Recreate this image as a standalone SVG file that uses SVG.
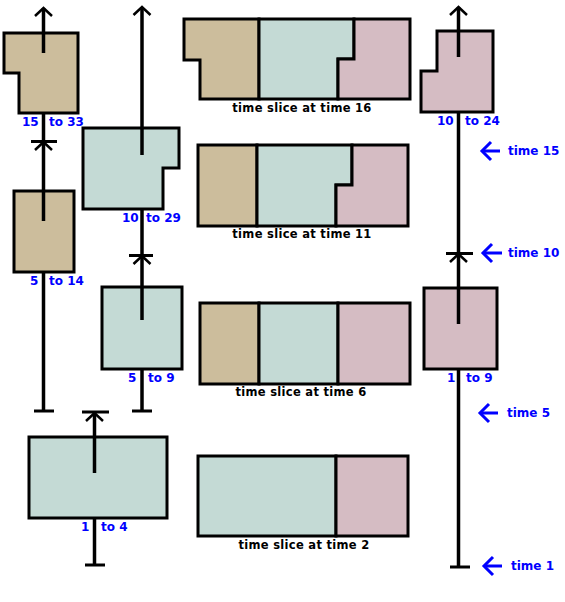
<svg xmlns="http://www.w3.org/2000/svg" width="565" height="602" viewBox="0 0 565 602">
<style>
.tan{fill:#CCBD9C;stroke:#000;stroke-width:3}
.teal{fill:#C4DAD5;stroke:#000;stroke-width:3}
.pink{fill:#D5BCC3;stroke:#000;stroke-width:3}
.ln{stroke:#000;stroke-width:3.5;fill:none}
.hd{stroke:#000;stroke-width:2.5;fill:none}
.bar{stroke:#000;stroke-width:3}
.blu{stroke:#0000FF;stroke-width:3;fill:none}
.lbl{font-family:"DejaVu Sans",sans-serif;font-weight:bold;font-size:12px;fill:#0000FF}
.cap{font-family:"DejaVu Sans",sans-serif;font-weight:bold;font-size:11.5px;letter-spacing:0.3px;fill:#000;text-anchor:middle}
</style>
<rect width="565" height="602" fill="#fff"/>

<g id="obj-15-33">
<polygon class="tan" points="4,33 78,33 78,113 19,113 19,73 4,73"/>
<text class="lbl" y="126"><tspan x="22">15</tspan><tspan x="49">to 33</tspan></text>
</g>
<g id="obj-5-14">
<rect class="tan" x="14" y="191" width="60" height="81"/>
<text class="lbl" y="285"><tspan x="30">5</tspan><tspan x="49">to 14</tspan></text>
</g>
<g id="obj-10-29">
<polygon class="teal" points="83,128 179,128 179,168 163,168 163,209 83,209"/>
<text class="lbl" y="222"><tspan x="122">10</tspan><tspan x="146">to 29</tspan></text>
</g>
<g id="obj-5-9">
<rect class="teal" x="102" y="287" width="80" height="82"/>
<text class="lbl" y="382"><tspan x="128">5</tspan><tspan x="148">to 9</tspan></text>
</g>
<g id="obj-1-4">
<rect class="teal" x="29" y="437" width="138" height="81"/>
<text class="lbl" y="531"><tspan x="81">1</tspan><tspan x="101">to 4</tspan></text>
</g>
<g id="obj-10-24">
<polygon class="pink" points="437,31 493,31 493,112 421,112 421,71 437,71"/>
<text class="lbl" y="125"><tspan x="437">10</tspan><tspan x="465">to 24</tspan></text>
</g>
<g id="obj-1-9">
<rect class="pink" x="424" y="288" width="73" height="81"/>
<text class="lbl" y="382"><tspan x="447">1</tspan><tspan x="466">to 9</tspan></text>
</g>

<g id="slice-16">
<polygon class="tan" points="184,19 259,19 259,99 200,99 200,60 184,60"/>
<polygon class="teal" points="259,19 354,19 354,59 338,59 338,99 259,99"/>
<polygon class="pink" points="354,19 410,19 410,99 338,99 338,59 354,59"/>
<text class="cap" x="302" y="112">time slice at time 16</text>
</g>
<g id="slice-11">
<rect class="tan" x="198" y="145" width="59" height="81"/>
<polygon class="teal" points="257,145 352,145 352,185 336,185 336,226 257,226"/>
<polygon class="pink" points="352,145 408,145 408,226 336,226 336,185 352,185"/>
<text class="cap" x="302" y="238">time slice at time 11</text>
</g>
<g id="slice-6">
<rect class="tan" x="200" y="303" width="59" height="81"/>
<rect class="teal" x="259" y="303" width="79" height="81"/>
<rect class="pink" x="338" y="303" width="72" height="81"/>
<text class="cap" x="301" y="396">time slice at time 6</text>
</g>
<g id="slice-2">
<rect class="teal" x="198" y="456" width="138" height="80"/>
<rect class="pink" x="336" y="456" width="72" height="80"/>
<text class="cap" x="304" y="549">time slice at time 2</text>
</g>

<g id="connectors">
<line class="ln" x1="43.5" y1="8" x2="43.5" y2="53"/>
<polyline class="hd" points="35,16 43.5,8 52,16"/>
<line class="ln" x1="43.5" y1="113" x2="43.5" y2="141"/>
<line class="bar" x1="31" y1="141.5" x2="57" y2="141.5"/>
<line class="ln" x1="43.5" y1="141" x2="43.5" y2="221"/>
<polyline class="hd" points="35,150 43.5,142 52,150"/>
<line class="ln" x1="43.5" y1="272" x2="43.5" y2="411"/>
<line class="bar" x1="34" y1="411" x2="54" y2="411"/>
<line class="ln" x1="142" y1="7" x2="142" y2="155"/>
<polyline class="hd" points="133.5,15 142,7 150.5,15"/>
<line class="ln" x1="142" y1="209" x2="142" y2="255"/>
<line class="bar" x1="129" y1="255.5" x2="153" y2="255.5"/>
<line class="ln" x1="142" y1="255" x2="142" y2="320"/>
<polyline class="hd" points="133.5,264 142,256 150.5,264"/>
<line class="ln" x1="142" y1="369" x2="142" y2="411"/>
<line class="bar" x1="132" y1="411" x2="152" y2="411"/>
<line class="bar" x1="82" y1="412" x2="109" y2="412"/>
<line class="ln" x1="94.5" y1="412" x2="94.5" y2="473"/>
<polyline class="hd" points="86,421 94.5,413 103,421"/>
<line class="ln" x1="94.5" y1="518" x2="94.5" y2="565"/>
<line class="bar" x1="85" y1="565" x2="105" y2="565"/>
<line class="ln" x1="458.5" y1="7" x2="458.5" y2="57"/>
<polyline class="hd" points="450,15 458.5,7 467,15"/>
<line class="ln" x1="458.5" y1="112" x2="458.5" y2="253"/>
<line class="bar" x1="446" y1="253.5" x2="473" y2="253.5"/>
<line class="ln" x1="458.5" y1="253" x2="458.5" y2="324"/>
<polyline class="hd" points="450,262 458.5,254 467,262"/>
<line class="ln" x1="458.5" y1="369" x2="458.5" y2="567"/>
<line class="bar" x1="450" y1="567" x2="470" y2="567"/>
</g>

<g id="time-markers">
<line class="blu" x1="482" y1="151" x2="500" y2="151"/>
<polyline class="blu" points="491,142 482,151 491,160"/>
<text class="lbl" x="508" y="155">time 15</text>
<line class="blu" x1="483" y1="253" x2="502" y2="253"/>
<polyline class="blu" points="492,244 483,253 492,262"/>
<text class="lbl" x="508" y="257">time 10</text>
<line class="blu" x1="480" y1="413" x2="498" y2="413"/>
<polyline class="blu" points="489,404 480,413 489,422"/>
<text class="lbl" x="507" y="417">time 5</text>
<line class="blu" x1="484" y1="566" x2="502" y2="566"/>
<polyline class="blu" points="493,557 484,566 493,575"/>
<text class="lbl" x="511" y="570">time 1</text>
</g>
</svg>
